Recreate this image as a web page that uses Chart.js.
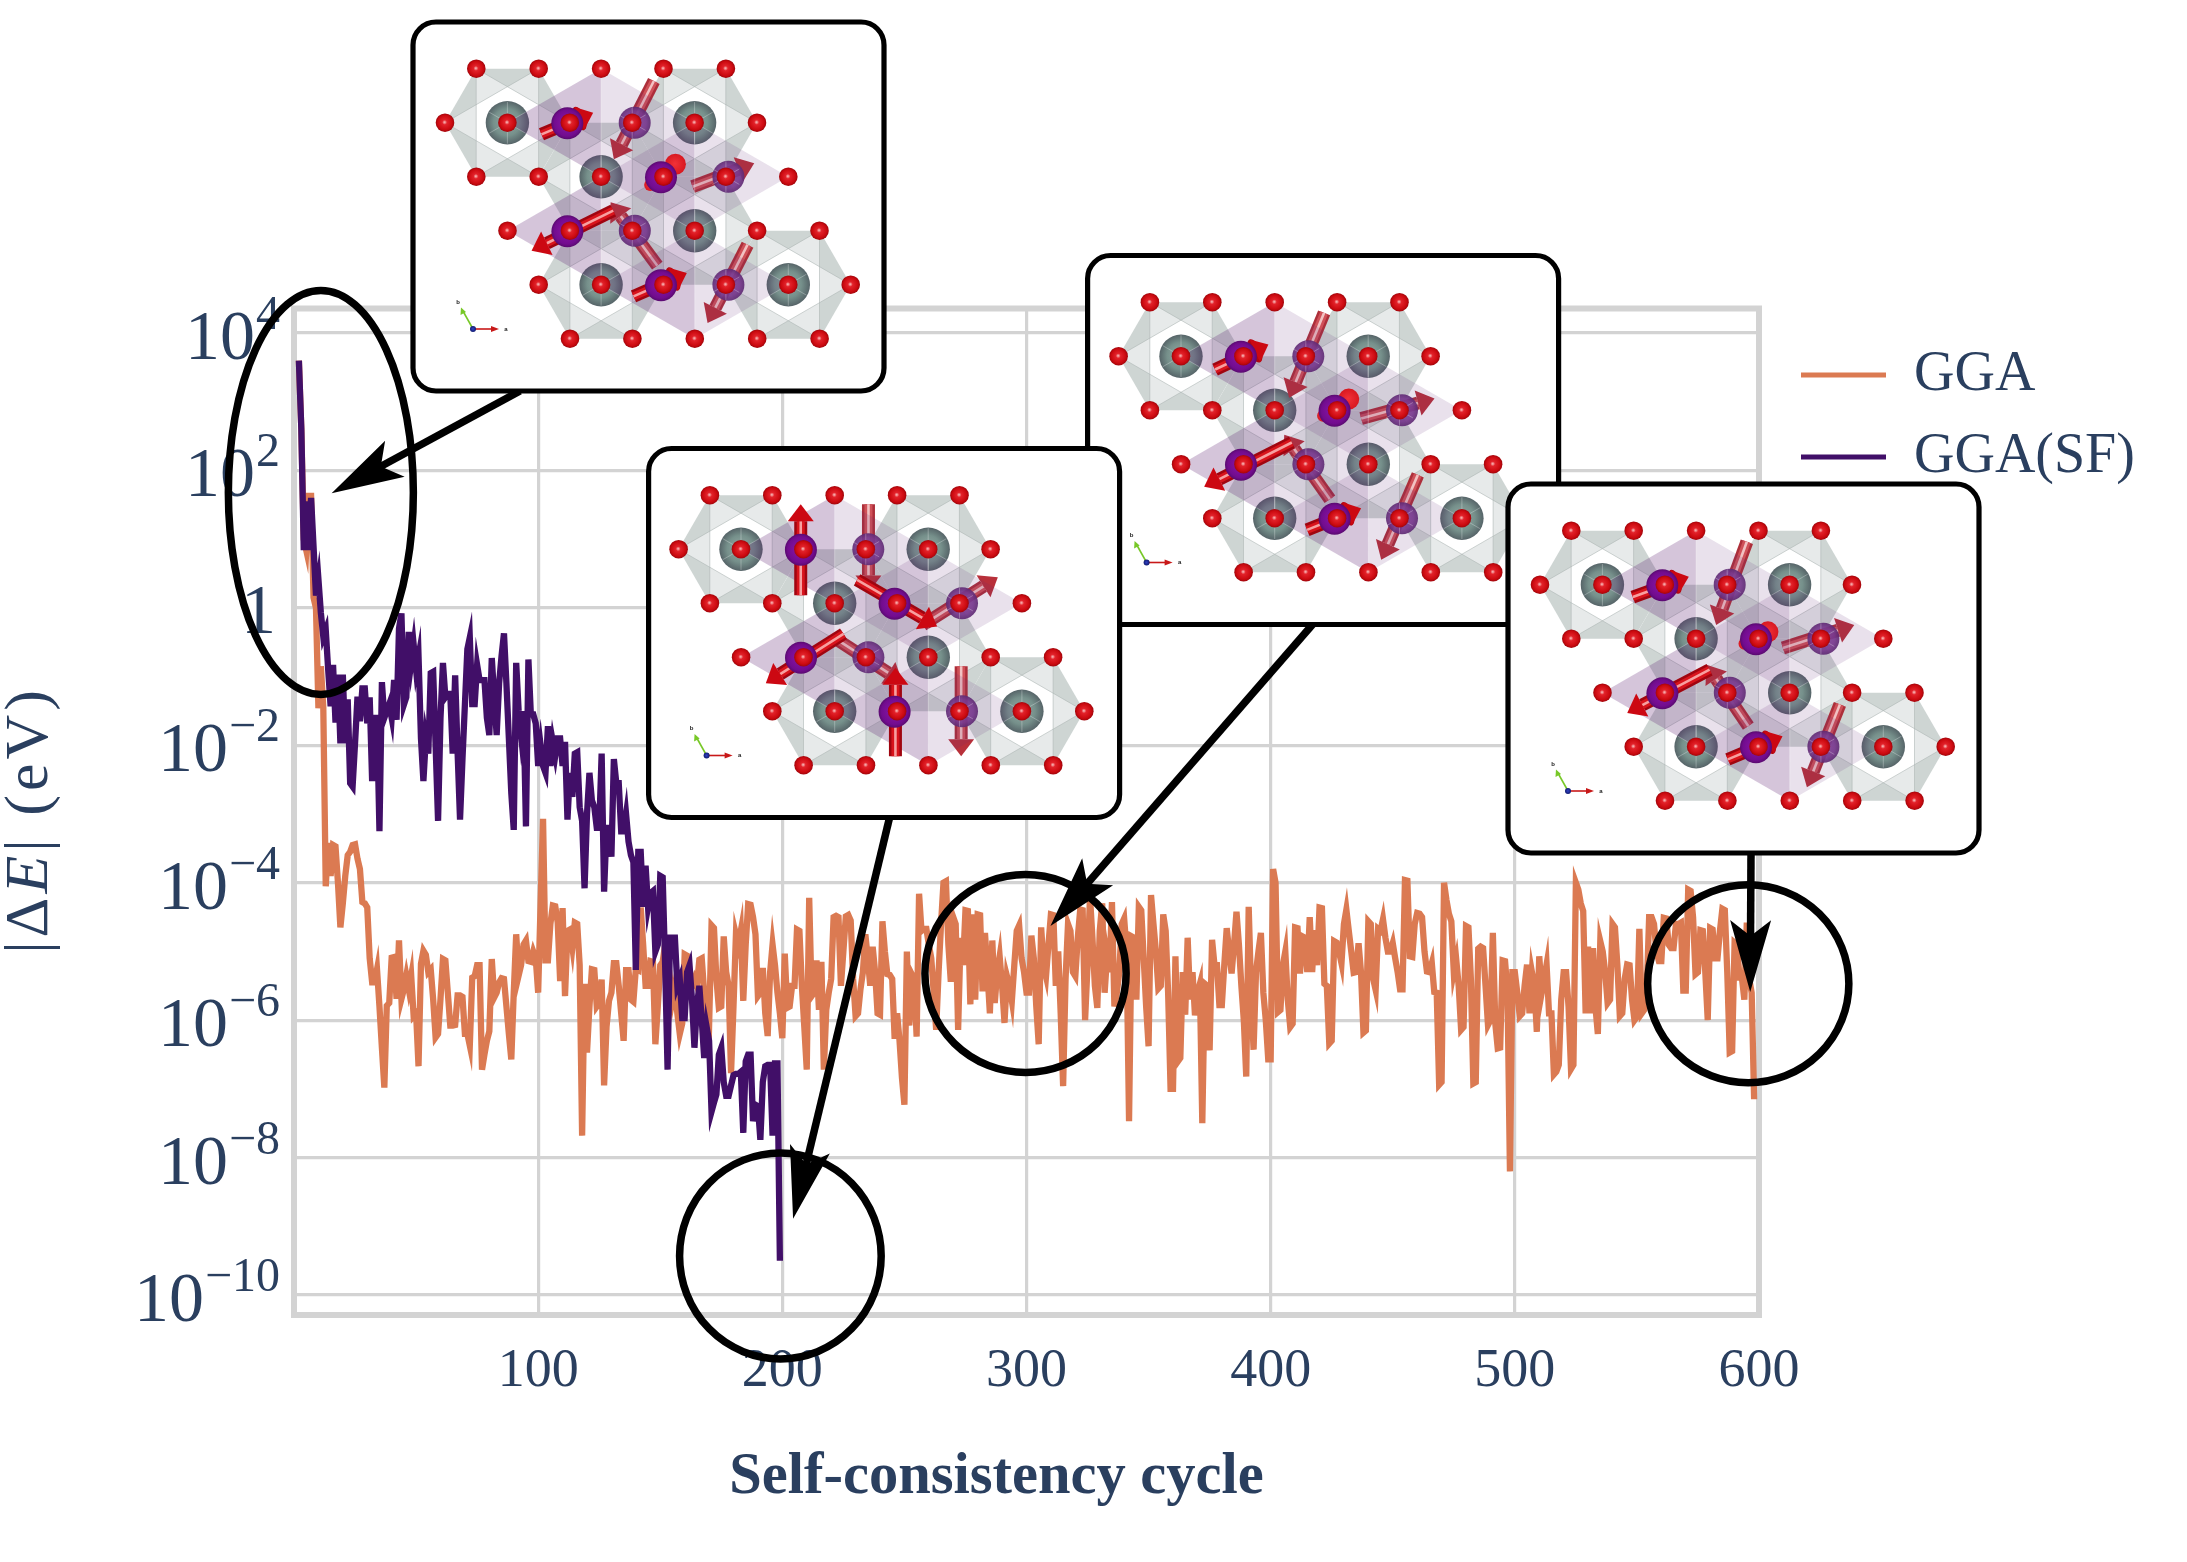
<!DOCTYPE html>
<html><head><meta charset="utf-8">
<style>html,body{margin:0;padding:0;background:#fff}canvas{display:block}</style>
<script src="https://cdn.jsdelivr.net/npm/chart.js@4/dist/chart.umd.min.js"></script>
</head><body><canvas id="c" width="2187" height="1562"></canvas>
<script>
// Log10 |dE| per cycle, first entry is cycle 2.
const ggaExp = [3.6,2.6,1.0,0.84,1.63,1.63,0.15,0.0,-1.46,
-0.85,-1.45,-4.05,-3.42,-3.9,-3.45,-3.47,-4.0,-4.65,-4.3,
-3.9,-3.6,-3.55,-3.45,-3.44,-3.65,-3.8,-4.28,-4.3,-4.36,
-5.1,-5.45,-5.45,-5.26,-5.8,-6.4,-6.98,-5.79,-5.75,-5.09,
-5.08,-5.69,-4.84,-5.69,-5.55,-5.35,-5.55,-5.35,-5.94,-5.9,
-6.67,-5.18,-4.99,-5.05,-5.3,-5.26,-5.7,-6.25,-6.2,-5.69,
-5.11,-5.13,-5.6,-6.08,-6.08,-6.07,-5.64,-5.64,-5.66,-6.2,
-6.2,-6.37,-5.38,-5.36,-5.2,-5.2,-6.72,-6.5,-6.3,-6.16,
-5.11,-5.67,-5.6,-5.45,-5.39,-5.4,-5.8,-6.2,-6.57,-5.6,
-4.75,-5.35,-5.2,-4.9,-4.84,-5.14,-5.15,-5.0,-5.1,-5.6,
-4.3,-3.07,-5.13,-5.13,-4.6,-4.33,-4.34,-4.58,-5.43,-4.37,
-5.65,-4.7,-4.68,-4.94,-4.58,-4.6,-5.2,-7.68,-5.47,-6.47,
-5.8,-5.26,-5.27,-5.8,-5.75,-5.41,-6.95,-6.1,-5.72,-5.6,
-5.17,-5.17,-5.5,-5.9,-6.3,-5.27,-5.27,-5.7,-5.73,-5.25,
-5.27,-4.36,-4.9,-5.5,-5.5,-5.14,-5.15,-6.35,-5.8,-5.2,
-5.15,-4.9,-5.1,-5.4,-5.7,-5.5,-5.9,-6.2,-6.05,-5.04,
-5.06,-5.35,-5.5,-5.4,-5.5,-5.12,-5.1,-5.6,-5.9,-6.09,
-4.62,-4.66,-5.4,-5.82,-5.8,-4.78,-5.3,-5.5,-6.77,-5.8,
-4.75,-4.9,-4.7,-5.72,-4.9,-4.31,-4.32,-4.5,-4.75,-5.65,
-5.6,-5.24,-5.9,-6.23,-5.3,-4.9,-5.2,-5.6,-5.9,-6.26,
-5.03,-5.82,-5.8,-5.5,-5.5,-4.68,-4.7,-5.5,-6.1,-6.72,
-4.22,-5.65,-5.6,-5.13,-5.85,-5.15,-6.72,-5.85,-5.6,-5.4,
-4.5,-4.48,-4.5,-5.5,-5.0,-4.49,-4.47,-4.55,-5.4,-5.94,
-5.9,-5.55,-5.3,-4.75,-5.1,-5.5,-4.93,-5.3,-5.9,-5.92,
-4.56,-5.0,-5.33,-5.34,-5.4,-6.27,-5.9,-6.3,-6.84,-7.23,
-5.0,-6.08,-5.33,-5.4,-6.24,-4.16,-4.7,-4.67,-4.67,-4.9,
-5.1,-5.6,-6.14,-5.3,-4.6,-4.0,-3.98,-4.9,-5.44,-4.5,
-4.6,-6.14,-4.8,-5.2,-4.4,-4.41,-5.77,-4.46,-5.7,-4.46,
-4.47,-5.58,-4.73,-5.3,-5.9,-4.84,-5.75,-5.3,-5.07,-5.5,
-6.04,-5.36,-5.5,-5.72,-5.2,-4.7,-4.62,-5.1,-5.3,-5.6,
-5.6,-4.77,-5.1,-5.8,-6.35,-4.65,-5.2,-5.36,-4.9,-4.46,
-4.47,-5.5,-5.0,-5.9,-6.96,-5.4,-4.6,-4.7,-5.3,-5.36,
-4.8,-4.39,-4.4,-6.0,-5.2,-4.2,-4.8,-5.5,-5.82,-4.7,
-4.3,-5.6,-5.07,-5.3,-4.28,-5.8,-5.6,-5.3,-4.6,-4.52,
-5.0,-7.47,-4.78,-4.8,-5.7,-4.35,-4.4,-5.1,-5.8,-6.38,
-4.18,-4.6,-5.0,-5.54,-5.5,-4.46,-4.7,-5.6,-7.0,-7.0,
-5.07,-6.6,-6.55,-5.3,-5.92,-4.8,-5.7,-5.3,-5.93,-5.6,
-5.47,-7.5,-5.47,-5.5,-6.44,-4.83,-5.2,-5.2,-5.78,-5.78,
-5.2,-4.66,-5.0,-5.32,-4.9,-4.42,-4.9,-5.5,-6.0,-6.82,
-4.35,-5.6,-6.43,-5.3,-5.0,-4.73,-5.6,-6.0,-6.57,-6.57,
-3.8,-4.0,-5.88,-5.85,-5.2,-5.0,-5.7,-6.1,-6.05,-4.65,
-4.66,-5.32,-4.78,-4.8,-5.3,-4.5,-5.3,-4.69,-5.2,-4.36,
-4.37,-5.47,-5.5,-6.34,-6.3,-4.85,-4.87,-5.0,-5.17,-4.6,
-4.39,-4.7,-5.0,-5.31,-5.3,-4.88,-5.3,-6.18,-6.15,-4.56,
-4.6,-5.4,-5.56,-4.67,-4.7,-4.53,-4.8,-5.0,-5.0,-4.88,
-5.1,-5.3,-5.55,-5.55,-3.96,-3.97,-5.07,-5.08,-4.6,-4.44,
-4.45,-4.5,-5.0,-5.29,-5.3,-5.17,-5.59,-5.6,-6.94,-6.9,
-4.0,-4.25,-4.45,-4.56,-5.3,-5.12,-5.5,-6.14,-6.1,-4.63,
-4.65,-5.4,-6.92,-6.9,-4.96,-4.93,-4.95,-5.5,-6.07,-6.0,
-4.73,-6.05,-6.41,-6.4,-5.13,-5.14,-5.6,-8.2,-5.3,-5.3,
-5.6,-5.94,-5.9,-5.5,-5.19,-5.9,-5.3,-5.5,-6.17,-5.07,
-5.6,-5.4,-5.19,-5.9,-5.9,-6.79,-6.75,-6.65,-5.7,-5.3,
-5.3,-5.8,-6.71,-6.65,-4.0,-4.1,-4.3,-4.41,-5.9,-4.93,
-5.9,-4.95,-5.8,-6.2,-4.85,-5.0,-5.3,-5.75,-5.7,-4.6,
-4.65,-5.2,-5.94,-5.9,-5.4,-5.19,-5.2,-5.7,-6.0,-5.95,
-4.67,-5.9,-5.85,-5.6,-4.5,-4.5,-4.6,-5.0,-5.14,-5.14,
-4.51,-4.52,-4.9,-4.95,-4.95,-4.6,-4.6,-4.58,-5.57,-5.57,
-4.1,-4.12,-4.5,-5.33,-5.3,-4.69,-4.7,-5.3,-6.0,-4.66,
-4.68,-5.1,-5.1,-4.7,-4.38,-4.4,-5.3,-6.47,-6.45,-4.87,
-4.9,-5.38,-5.38,-5.7,-4.58,-5.4,-5.6,-7.15];
const sfExp = [3.6,2.6,0.84,1.55,0.84,1.6,0.9,0.18,0.42,
-0.07,-0.42,-0.32,-0.9,-1.43,-0.83,-1.67,-0.97,-1.97,-0.97,
-1.97,-1.33,-2.55,-2.6,-1.97,-1.29,-1.65,-1.17,-1.17,-1.68,
-1.3,-2.52,-1.6,-1.6,-3.25,-1.08,-1.6,-1.5,-1.4,-1.6,
-1.05,-1.63,-0.3,-0.08,-1.41,-1.3,-0.35,-0.8,-0.53,-0.9,
-0.7,-1.9,-2.52,-1.9,-2.12,-0.95,-0.93,-2.0,-3.1,-1.6,
-0.8,-1.3,-1.25,-1.25,-2.12,-0.98,-2.1,-3.08,-2.2,-1.4,
-0.6,-0.43,-1.4,-1.4,-0.83,-1.05,-1.05,-1.05,-1.6,-1.85,
-0.73,-1.3,-1.85,-1.1,-0.7,-0.37,-1.1,-1.9,-2.7,-3.23,
-0.8,-1.5,-1.85,-1.5,-3.18,-0.75,-1.55,-1.55,-1.68,-2.3,
-2.0,-2.3,-2.4,-1.72,-2.3,-1.95,-2.15,-1.9,-1.9,-2.3,
-1.95,-3.08,-2.4,-2.75,-2.12,-2.1,-2.9,-3.1,-4.08,-3.0,
-2.4,-2.8,-2.9,-3.2,-3.2,-2.12,-4.13,-3.2,-3.2,-3.62,
-2.2,-2.55,-2.55,-3.25,-3.25,-3.0,-3.4,-3.6,-3.7,-5.27,
-3.55,-3.55,-4.35,-3.75,-4.35,-4.15,-4.12,-5.0,-4.9,-3.9,
-3.92,-5.2,-6.72,-4.8,-4.8,-4.8,-5.5,-5.4,-5.97,-5.97,
-5.3,-5.2,-5.7,-6.4,-5.8,-5.5,-6.0,-6.55,-6.1,-6.3,
-7.33,-7.2,-7.08,-6.5,-6.4,-6.9,-7.1,-7.1,-6.95,-6.8,
-6.78,-6.78,-6.75,-7.64,-6.6,-6.5,-6.5,-7.47,-7.23,-7.25,
-7.74,-6.9,-6.67,-6.65,-6.65,-7.68,-6.63,-6.63,-9.5];
const xTickValues = [100,200,300,400,500,600];
const yTickExp = [4,2,0,-2,-4,-6,-8,-10];
const yTickLabels = ['10⁴','10²','1','10⁻²','10⁻⁴','10⁻⁶','10⁻⁸','10⁻¹⁰'];
const seriesNames = ['GGA','GGA(SF)'];
// Annotation anchors in data space: cycle and log10 |dE|.
const ringCycle = [11,199.2,299.6,595.6];
const ringExp = [1.68,-9.43,-5.32,-5.47];
const arrowTipCycle = [15.4,204.4,309.8,596.4];
const arrowTipExp = [1.67,-8.89,-4.63,-5.59];

const INK='#2a3f5f', GRID='#d3d3d3', FONT='"Liberation Serif"';
const ORANGE='#db7a52', PURPLE='#410f68';
const CARD_W=471, CARD_H=369;
const toPts=(arr)=>arr.map((e,i)=>({x:i+2,y:Math.pow(10,e)}));

function roundPath(c,x,y,w,h,r){c.beginPath();c.moveTo(x+r,y);c.arcTo(x+w,y,x+w,y+h,r);c.arcTo(x+w,y+h,x,y+h,r);c.arcTo(x,y+h,x,y,r);c.arcTo(x,y,x+w,y,r);c.closePath();}
function poly(c,pts,fill,stroke){c.beginPath();pts.forEach((p,i)=>i?c.lineTo(p[0],p[1]):c.moveTo(p[0],p[1]));c.closePath();if(fill){c.fillStyle=fill;c.fill();}if(stroke){c.strokeStyle=stroke;c.lineWidth=1;c.stroke();}}
function ball(c,x,y,r,cols,alpha){const g=c.createRadialGradient(x-r*.05,y-r*.05,r*.05,x,y,r);cols.forEach((k,i)=>g.addColorStop(k[0],k[1]));c.save();c.globalAlpha=alpha||1;c.fillStyle=g;c.beginPath();c.arc(x,y,r,0,7);c.fill();c.restore();}
const REDBALL=[[0,'#f6a8a8'],[.22,'#e2222a'],[.75,'#cc0a10'],[1,'#a0060c']];
const GREYBALL=[[0,'#93a8a3'],[.6,'#76908b'],[1,'#566468']];
const PBALL=[[0,'#8a15a8'],[.8,'#720c8e'],[1,'#5a0a70']];
const LBALL=[[0,'#8a4a9e'],[.7,'#7a3a90'],[1,'#5e2a72']];

const ROWX=[63.3,32,63.3,94.5,125.7,157], ROWN=[5,6,6,6,6,5];
const site=(r,k)=>[ROWX[r]+62.4*k,46.7+54*r];
const GREYS=[[1,1],[1,4],[2,2],[3,3],[4,1],[4,4]];
const DARK=[[1,2],[2,3],[3,1],[4,2]];
const LIGHT=[[1,3],[2,4],[3,2],[4,3]];
const RHOMB=[[1,1,0,2,1,4,2,2],[2,2,1,4,2,5,3,3],[3,0,2,2,3,3,4,1],[4,1,3,3,4,4,5,2]];

function hexAt(x,y,R){const d=R*.5,h=R*.866;return [[x-d,y-h],[x+d,y-h],[x+R,y],[x+d,y+h],[x-d,y+h],[x-R,y]];}
function spin(c,x,y,t,light){
  const [tx,ty,hx,hy]=t.map(v=>v/3);
  const ax=x+tx,ay=y+ty,bx=x+hx,by=y+hy;
  const L=Math.hypot(bx-ax,by-ay),ux=(bx-ax)/L,uy=(by-ay)/L,nx=-uy,ny=ux;
  if(L<42){ // moment seen almost end-on: only the two ends show
    ball(c,bx-ux*4,by-uy*4,10.5,[[0,'#f03038'],[1,'#d81820']]);
    ball(c,ax,ay,6,[[0,'#f03038'],[1,'#d81820']]);
    return;
  }
  const hl=L<65?15:17,hw=L<65?12.5:13;
  const sx=bx-ux*hl,sy=by-uy*hl;
  c.save();c.lineCap='butt';
  [[13,light?'#ad2f3a':'#a00510'],[8,light?'#cf5158':'#d8141c'],[2.6,light?'#f2c2c2':'#f7a0a0']].forEach(s=>{c.strokeStyle=s[1];c.lineWidth=s[0];c.beginPath();c.moveTo(ax,ay);c.lineTo(sx,sy);c.stroke();});
  if(L<65){const A=Math.atan2(uy,ux);c.fillStyle='#b00610';c.beginPath();c.ellipse(sx,sy,6,hw,A,0,7);c.fill();}
  poly(c,[[bx,by],[sx+nx*hw,sy+ny*hw],[sx-nx*hw,sy-ny*hw]],light?'#b8303a':'#cc0812');
  c.restore();
}
function crystal(c,ox,oy,spins){
  c.save();c.translate(ox,oy);
  GREYS.forEach(g=>{const [x,y]=site(g[0],g[1]);const H=hexAt(x,y,62.4);
    poly(c,H,'#ced5d3');
    poly(c,[H[0],H[2],H[4]],'#e7eaea');poly(c,[H[1],H[3],H[5]],'#e7eaea');
    const I=hexAt(x,y,36).map(p=>[x+(p[1]-y),y-(p[0]-x)]);
    poly(c,I,'#ffffff');
    c.strokeStyle='rgba(170,178,176,.55)';c.lineWidth=1;c.beginPath();
    [[0,2],[2,4],[4,0],[1,3],[3,5],[5,1]].forEach(e=>{c.moveTo(H[e[0]][0],H[e[0]][1]);c.lineTo(H[e[1]][0],H[e[1]][1]);});c.stroke();
  });
  GREYS.forEach(g=>{const [x,y]=site(g[0],g[1]);ball(c,x,y,21.7,GREYBALL);});
  LIGHT.forEach((s,i)=>{const [x,y]=site(s[0],s[1]);spin(c,x,y,spins[i*2+1],true);ball(c,x+2.5,y,16,LBALL,.92);});
  RHOMB.forEach(R=>{const l=site(R[0],R[1]),t=site(R[2],R[3]),r=site(R[4],R[5]),b=site(R[6],R[7]);
    poly(c,[l,t,b],'rgba(100,40,120,.27)');poly(c,[t,r,b],'rgba(100,40,120,.14)');
    c.strokeStyle='rgba(255,255,255,.3)';c.lineWidth=1;c.beginPath();c.moveTo(t[0],t[1]);c.lineTo(b[0],b[1]);c.stroke();});
  DARK.forEach((s,i)=>{const [x,y]=site(s[0],s[1]);spin(c,x,y,spins[i*2],false);ball(c,x-2.5,y+.5,16,PBALL);});
  [...GREYS,...LIGHT].forEach(g=>{const [x,y]=site(g[0],g[1]);const R=GREYS.includes(g)?21:15.5;c.strokeStyle='rgba(255,255,255,.28)';c.lineWidth=1;c.beginPath();for(let a=0;a<6;a++){const A=Math.PI/3*a+Math.PI/6;c.moveTo(x,y);c.lineTo(x+Math.cos(A)*R,y+Math.sin(A)*R);}c.stroke();});
  ROWX.forEach((_,r)=>{for(let k=0;k<ROWN[r];k++){const [x,y]=site(r,k);ball(c,x,y,9.3,REDBALL);}});
  // crystal axes
  c.lineWidth=1.6;c.strokeStyle='#c81818';c.beginPath();c.moveTo(60,307);c.lineTo(80,307);c.stroke();poly(c,[[86,307],[78,304],[78,310]],'#c81818');
  c.strokeStyle='#78c828';c.beginPath();c.moveTo(60,307);c.lineTo(50.5,290);c.stroke();poly(c,[[48,285.5],[47.5,293],[53,290]],'#78c828');
  ball(c,60,307,3,[[0,'#3040c0'],[1,'#101a70']]);
  c.fillStyle='#222';c.font='bold 6px "Liberation Sans"';c.textAlign='center';c.textBaseline='middle';c.fillText('a',93,307);c.fillText('b',45,280);
  c.restore();
}
const SPIN_A=[[-85,35,70,-30],[65,-125,-55,110],[-40,25,45,-45],[-100,30,85,-40],[130,-60,-115,60],[75,105,-65,-85],[-90,35,70,-35],[65,-120,-55,115]];
const SPIN_B=[[-85,40,75,-35],[55,-130,-50,125],[-42,17,45,-40],[-115,25,105,-35],[145,-65,-118,68],[72,105,-65,-88],[-90,35,72,-30],[55,-130,-55,125]];
const SPIN_C=[[-8,138,-8,-135],[8,-135,8,130],[-120,-70,120,70],[-110,65,115,-78],[120,-70,-113,78],[-90,-55,110,75],[-5,135,-5,-130],[5,-135,5,135]];
const SPIN_D=[[-96,37,72,-24],[59,-129,-33,121],[-42,15,39,-26],[-114,28,100,-41],[134,-69,-113,61],[63,100,-62,-84],[-92,38,72,-31],[57,-127,-42,122]];
const CARDS=[[413,22,0,SPIN_A],[1087.6,255.5,-1,SPIN_B],[648.6,448.5,-2,SPIN_C],[1508,484,0,SPIN_D]];
const ARROW_START=[[520,391],[889.7,817],[1313,624],[1751,853]];

function arrow(c,a,b){
  const L=Math.hypot(b[0]-a[0],b[1]-a[1]),ux=(b[0]-a[0])/L,uy=(b[1]-a[1])/L,nx=-uy,ny=ux;
  c.strokeStyle='#000';c.lineWidth=7.5;c.lineCap='butt';c.beginPath();c.moveTo(a[0],a[1]);c.lineTo(b[0]-ux*50,b[1]-uy*50);c.stroke();
  poly(c,[b,[b[0]-ux*72+nx*20.5,b[1]-uy*72+ny*20.5],[b[0]-ux*56,b[1]-uy*56],[b[0]-ux*72-nx*20.5,b[1]-uy*72-ny*20.5]],'#000');
}
function yLabels(){ // '10' with a raised exponent, as the reference typesets them
  const c=this.ctx,right=this.right-14;
  c.save();c.fillStyle=INK;c.textBaseline='alphabetic';
  this.ticks.forEach((t,i)=>{
    const y=this.getPixelForValue(t.value),e=yTickExp[i];
    if(e===0){c.textAlign='right';c.font='70px '+FONT;c.fillText('1',right-4,y+25);return;}
    const exp=String(e).replace('-','−');
    c.font='48px '+FONT;const w=c.measureText(exp).width;
    c.textAlign='right';c.fillText(exp,right,y-4);
    c.font='70px '+FONT;c.fillText('10',right-w-1,y+26);
  });
  c.restore();
}
function yTitle(){ // italic E inside the rotated axis title
  const c=this.ctx,parts=[['|Δ','62px '+FONT],['E','italic 62px '+FONT],['| (eV)','62px '+FONT]];
  c.save();c.translate(31,820);c.rotate(-Math.PI/2);c.fillStyle=INK;c.textBaseline='middle';c.textAlign='left';
  if('letterSpacing' in c)c.letterSpacing='4px';
  let w=0;parts.forEach(p=>{c.font=p[1];w+=c.measureText(p[0]).width;});
  let x=-w/2;parts.forEach(p=>{c.font=p[1];c.fillText(p[0],x,0);x+=c.measureText(p[0]).width;});
  c.restore();
}
const overlay={id:'overlay',
  beforeDatasetsDraw(ch){const c=ch.ctx,A=ch.chartArea;c.save();c.strokeStyle=GRID;c.lineWidth=6;c.strokeRect(A.left,A.top,A.right-A.left,A.bottom-A.top);c.restore();},
  afterDraw(ch){
    const c=ch.ctx,X=ch.scales.x,Y=ch.scales.y;
    const px=(x,e)=>[X.getPixelForValue(x),Y.getPixelForValue(Math.pow(10,e))];
    c.save();
    const radii=[[92.5,202],[100.8,103],[100.6,99],[100.6,99]];
    ringCycle.forEach((v,i)=>{const p=px(v,ringExp[i]);c.strokeStyle='#000';c.lineWidth=7.5;c.beginPath();c.ellipse(p[0],p[1],radii[i][0],radii[i][1],0,0,Math.PI*2);c.stroke();});
    arrowTipCycle.forEach((v,i)=>arrow(c,ARROW_START[i],px(v,arrowTipExp[i])));
    CARDS.forEach(k=>{
      roundPath(c,k[0],k[1],CARD_W,CARD_H,23);c.fillStyle='#fff';c.fill();
      crystal(c,k[0]+k[2],k[1],k[3]);
      roundPath(c,k[0],k[1],CARD_W,CARD_H,23);c.strokeStyle='#000';c.lineWidth=5.2;c.stroke();
    });
    c.restore();
  },
  afterUpdate(ch){
    const l=ch.legend;const w=l.width;l.left=1775;l.right=l.left+w+60;l.top=321;l.bottom=l.top+l.height+40;
    const s=ch.scales.x,o=Chart.Scale.prototype.drawTitle;
    s.drawTitle=function(){const k=this.left,r=this.right;this.left-=30;this.right-=30;o.call(this);this.left=k;this.right=r;};
    ch.scales.y.drawTitle=yTitle;
    ch.scales.y.drawLabels=yLabels;
  }
};
new Chart(document.getElementById('c'),{
  type:'line',
  data:{datasets:[
    {label:seriesNames[0],data:toPts(ggaExp),borderColor:ORANGE,backgroundColor:ORANGE,borderWidth:6.3,pointRadius:0,tension:0,order:2,borderJoinStyle:'miter'},
    {label:seriesNames[1],data:toPts(sfExp),borderColor:PURPLE,backgroundColor:PURPLE,borderWidth:6.3,pointRadius:0,tension:0,order:1,borderJoinStyle:'miter'}
  ]},
  options:{
    responsive:false,animation:false,devicePixelRatio:1,parsing:false,normalized:true,
    layout:{padding:{top:308.5,right:428,bottom:0,left:0}},
    plugins:{
      tooltip:{enabled:false},title:{display:false},
      legend:{display:true,position:'chartArea',align:'start',
        labels:{boxWidth:85,boxHeight:5,padding:26,color:INK,font:{family:FONT,size:56},
          generateLabels(ch){return ch.data.datasets.map((d,i)=>({text:d.label,fillStyle:d.borderColor,strokeStyle:d.borderColor,lineWidth:0,fontColor:INK,hidden:false,datasetIndex:i}));}}}
    },
    scales:{
      x:{type:'linear',min:0,max:600,
        afterFit(s){s.height=247;},
        afterBuildTicks(s){s.ticks=xTickValues.map(v=>({value:v}));},
        grid:{color:GRID,lineWidth:3.2,drawTicks:false},border:{display:false},
        ticks:{color:INK,font:{family:FONT,size:54},padding:24,maxRotation:0,autoSkip:false},
        title:{display:true,text:'Self-consistency cycle',color:INK,font:{family:FONT,size:58.5,weight:'bold'},padding:{top:0,bottom:49}}},
      y:{type:'logarithmic',min:Math.pow(10,-10.29),max:Math.pow(10,4.357),
        afterFit(s){s.width=294;},
        afterBuildTicks(s){s.ticks=yTickExp.map(e=>({value:Math.pow(10,e)}));},
        grid:{color:GRID,lineWidth:3.2,drawTicks:false},border:{display:false},
        ticks:{color:INK,font:{family:FONT,size:58},padding:14,autoSkip:false,maxRotation:0,callback(v,i){return yTickLabels[i];}},
        title:{display:true,text:'|ΔE| (eV)',color:INK,font:{family:FONT,size:62},padding:{top:0,bottom:0}}}
    }
  },
  plugins:[overlay]
});
</script></body></html>
